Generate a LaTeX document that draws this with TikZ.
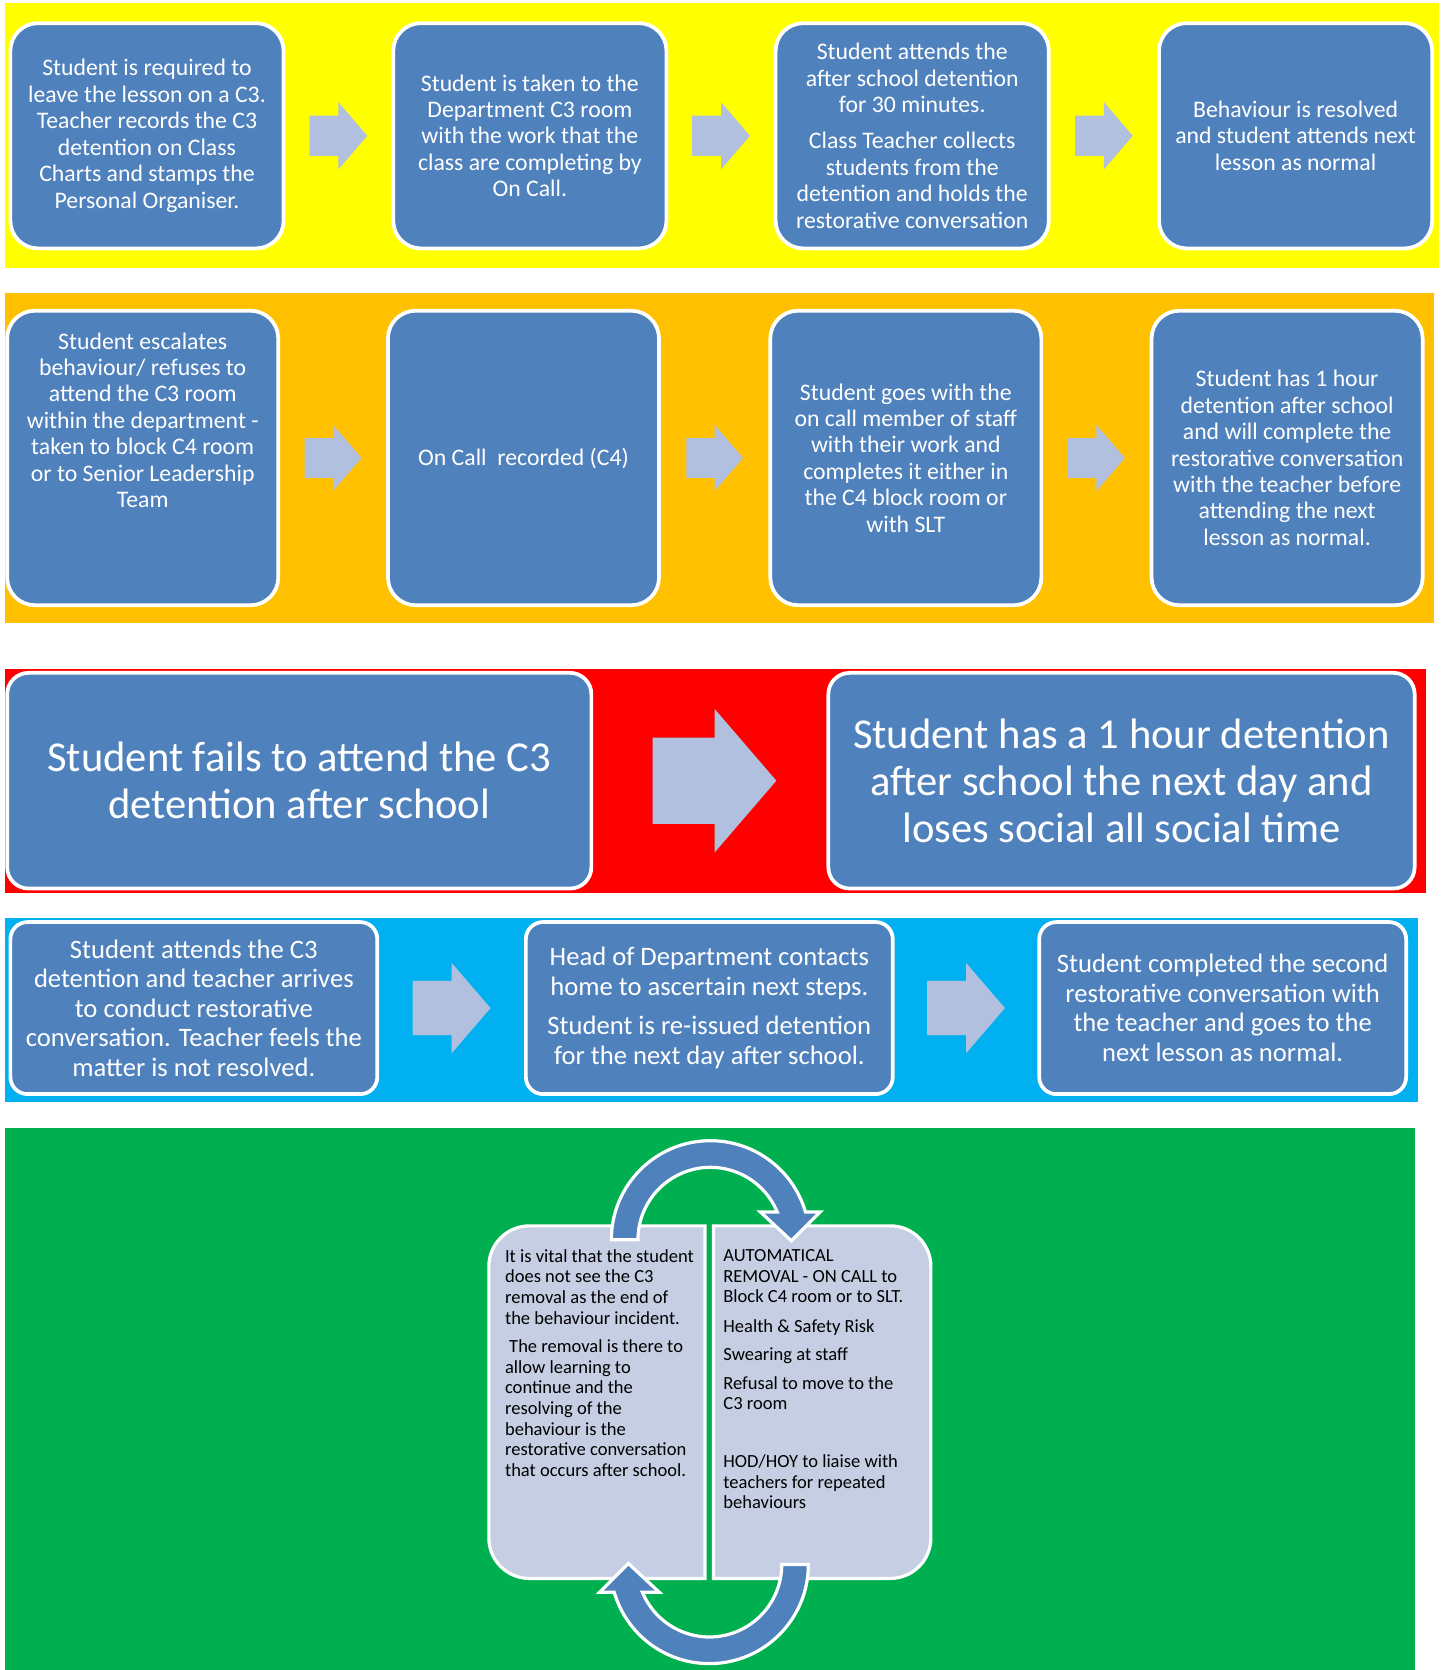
\documentclass[tikz,border=0pt]{standalone}
\usepackage{fontspec}
\setmainfont{Carlito}
\usetikzlibrary{calc,positioning}

\definecolor{boxblue}{RGB}{79,129,189}
\definecolor{arrowgrey}{RGB}{176,192,222}
\definecolor{panelgrey}{RGB}{197,206,226}
\definecolor{bandyellow}{RGB}{255,255,0}
\definecolor{bandorange}{RGB}{255,192,0}
\definecolor{bandred}{RGB}{255,0,0}
\definecolor{bandblue}{RGB}{0,176,240}
\definecolor{bandgreen}{RGB}{0,176,80}

\tikzset{
  blockarrow/.pic={\fill[arrowgrey, scale=#1] (-0.43,-0.3) -- (0,-0.3) -- (0,-0.5) -- (0.43,0) -- (0,0.5) -- (0,0.3) -- (-0.43,0.3) -- cycle;}
}

\begin{document}
\begin{tikzpicture}[x=1pt, y=-1pt,
    stage/.style={draw=white, line width=3.5pt, fill=boxblue, text=white, align=center, inner sep=0pt},
    stagetext/.style={text=white, align=center, inner sep=0pt},
    rowone/.style={stage, rounded corners=26pt, minimum width=256.5pt, minimum height=211.5pt, font=\fontsize{22.3}{24.8}\selectfont},
    rowtwo/.style={stage, rounded corners=26pt, minimum width=254.5pt, minimum height=276.5pt, font=\fontsize{22.3}{24.8}\selectfont},
    rowthree/.style={stage, rounded corners=20pt, minimum height=202.5pt, font=\fontsize{40}{44}\selectfont},
    rowfour/.style={stage, rounded corners=16pt, minimum width=344.5pt, minimum height=161.5pt, font=\fontsize{25}{27.7}\selectfont},
    panel/.style={draw=white, line width=3pt, fill=panelgrey},
    paneltext/.style={align=left, inner sep=0pt, anchor=north west, font=\fontsize{17.4}{19.3}\selectfont},
    looparrow/.style={draw=white, line width=3pt, fill=boxblue, line join=miter}]

  \fill[white] (0,0) rectangle (1356,1568);
  \useasboundingbox (0,0) rectangle (1356,1568);

  % coloured bands
  \fill[bandyellow] (5,3) rectangle (1351,252);
  \fill[bandorange] (5,275) rectangle (1346,585);
  \fill[bandred] (5,628) rectangle (1339,838);
  \fill[bandblue] (5,862) rectangle (1331,1035);
  \fill[bandgreen] (5,1059) rectangle (1329,1568);

  % C3 removal
  \node[rowone] (y1) at (138,127.5) {Student is required to\\leave the lesson on a C3.\\Teacher records the C3\\detention on Class\\Charts and stamps the\\Personal Organiser.};
  \node[rowone] (y2) at (497.5,127.5) {Student is taken to the\\Department C3 room\\with the work that the\\class are completing by\\On Call.};
  \node[rowone] (y3) at (856.5,127.5) {Student attends the\\after school detention\\for 30 minutes.\\[9.2pt]Class Teacher collects\\students from the\\detention and holds the\\restorative conversation};
  \node[rowone] (y4) at (1216.5,127.5) {Behaviour is resolved\\and student attends next\\lesson as normal};
  \foreach \a/\b in {y1/y2, y2/y3, y3/y4}
    \pic at ($(\a.east)!0.5!(\b.west)$) {blockarrow=63};

  % C4 escalation
  \node[rowtwo] (o1) at (134,430) {};
  \node[stagetext, font=\fontsize{22.3}{24.8}\selectfont, below=22pt of o1.north] (o1text) {Student escalates\\behaviour/ refuses to\\attend the C3 room\\within the department -\\taken to block C4 room\\or to Senior Leadership\\Team};
  \node[rowtwo] (o2) at (491.5,430) {On Call\ \ recorded (C4)};
  \node[rowtwo] (o3) at (850.5,430) {Student goes with the\\on call member of staff\\with their work and\\completes it either in\\the C4 block room or\\with SLT};
  \node[rowtwo] (o4) at (1208.5,430) {Student has 1 hour\\detention after school\\and will complete the\\restorative conversation\\with the teacher before\\attending the next\\lesson as normal.};
  \foreach \a/\b in {o1/o2, o2/o3, o3/o4}
    \pic at ($(\a.east)!0.5!(\b.west)$) {blockarrow=62};

  % missed detention
  \node[rowthree, minimum width=548.5pt] (r1) at (281,733) {Student fails to attend the C3\\detention after school};
  \node[rowthree, minimum width=550.5pt] (r2) at (1053,733) {Student has a 1 hour detention\\after school the next day and\\loses social all social time};
  \pic at ($(r1.east)!0.52!(r2.west)$) {blockarrow=135};

  % unresolved conversation
  \node[rowfour] (b1) at (182,946.5) {Student attends the C3\\detention and teacher arrives\\to conduct restorative\\conversation. Teacher feels the\\matter is not resolved.};
  \node[rowfour] (b2) at (666,946.5) {Head of Department contacts\\home to ascertain next steps.\\[9.3pt]Student is re-issued detention\\for the next day after school.};
  \node[rowfour] (b3) at (1148,946.5) {Student completed the second\\restorative conversation with\\the teacher and goes to the\\next lesson as normal.};
  \foreach \a/\b in {b1/b2, b2/b3}
    \pic at ($(\a.east)!0.5!(\b.west)$) {blockarrow=85};

  % removal cycle
  \draw[panel] (662,1151) -- (497,1151) arc[start angle=270, end angle=180, radius=38]
    -- (459,1444) arc[start angle=180, end angle=90, radius=38] -- (662,1482) -- cycle;
  \draw[panel] (670,1151) -- (836,1151) arc[start angle=270, end angle=360, radius=38]
    -- (874,1444) arc[start angle=0, end angle=90, radius=38] -- (670,1482) -- cycle;
  \foreach \turn in {0,180}
    \draw[looparrow, rotate around={\turn:(666.5,1316.5)}]
      (574,1164) arc[start angle=180, end angle=343.8, radius=93]
      -- (770,1138) -- (743,1165) -- (714,1138) -- (729.8,1138)
      arc[start angle=337.5, end angle=180, radius=68] -- cycle;

  \node[paneltext] (whyremove) at (474,1173) {It is vital that the student\\does not see the C3\\removal as the end of\\the behaviour incident.\\[7.7pt]\ The removal is there to\\allow learning to\\continue and the\\resolving of the\\behaviour is the\\restorative conversation\\that occurs after school.};
  \node[paneltext] (whenremove) at (679,1173) {AUTOMATICAL\\REMOVAL - ON CALL to\\Block C4 room or to SLT.\\[8.5pt]Health \& Safety Risk\\[7pt]Swearing at staff\\[8pt]Refusal to move to the\\C3 room\\[35pt]HOD/HOY to liaise with\\teachers for repeated\\behaviours};
\end{tikzpicture}
\end{document}
